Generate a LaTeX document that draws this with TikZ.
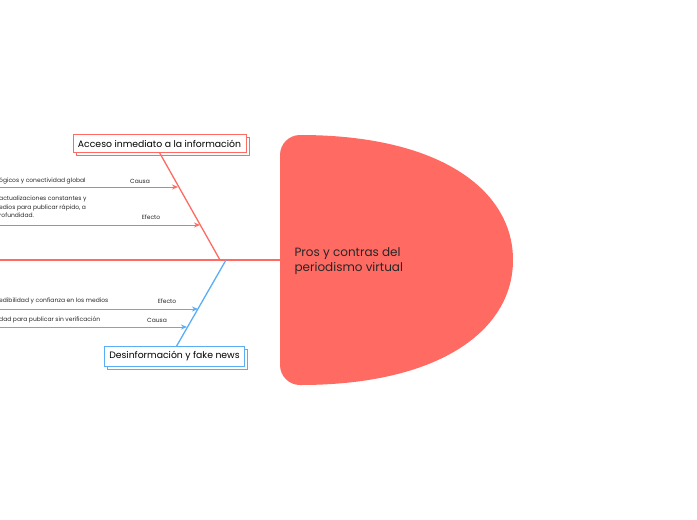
\documentclass[tikz,border=0pt]{standalone}
\usepackage{fontspec}
\setmainfont{Poppins}
\usetikzlibrary{arrows.meta}
\definecolor{rd}{HTML}{FF6B63}
\definecolor{bl}{HTML}{5AAEF5}
\tikzset{
 small/.style={font=\fontsize{6}{8.5}\selectfont, inner sep=0pt, text=black!85},
 bone/.style={line width=1.3pt},
 arr/.style={line width=1pt, -{Stealth[length=6pt,width=5pt]}},
 cat/.style={draw, fill=white, line width=0.8pt, font=\fontsize{9.3}{12}\selectfont, inner xsep=5pt, inner ysep=5pt}
}
\begin{document}
\begin{tikzpicture}[x=1pt,y=-1pt]
\useasboundingbox (0,0) rectangle (697,520);
\clip (0,0) rectangle (697,520);
% head
\fill[rd] (300,385) [rounded corners=20] -- (280,385) -- (280,135) [sharp corners] -- (300,135)
  .. controls (440,135) and (513,190) .. (513,260) .. controls (513,330) and (440,385) .. (300,385) -- cycle;
\node[anchor=west, font=\fontsize{12}{15}\selectfont, align=left, text=black!85] (head) at (291,261) {Pros y contras del\\periodismo virtual};
% spine
\coordinate (s0) at (0,260);
\coordinate (s1) at (281,260);
\draw[rd, bone] (s0) -- (s1);
% top category
\node[cat, draw=rd] (shA) at (162.5,146.5) {\phantom{Acceso inmediato a la información}};
\node[cat, draw=rd] (catA) at (159.5,143.5) {Acceso inmediato a la información};
\coordinate (tA) at (220,260);
\draw[rd, bone] (catA.south) ++(0,0) coordinate (bA) -- (tA);
\coordinate (a1s) at (0,187); \coordinate (a1e) at (178,187);
\coordinate (a2s) at (0,225); \coordinate (a2e) at (200,225);
\draw[rd, arr] (a1s) -- (a1e);
\draw[rd, arr] (a2s) -- (a2e);
\node[small, anchor=west] (t1) at (-1,181) {ógicos y conectividad global};
\node[small] (c1) at (140,181) {Causa};
\node[small, anchor=north west, align=left] (t2) at (-1,196) {actualizaciones constantes y\\edios para publicar rápido, a\\rofundidad.};
\node[small] (e1) at (151,217) {Efecto};
% bottom category
\node[cat, draw=bl] (shB) at (177.5,359.5) {\phantom{Desinformación y fake news}};
\node[cat, draw=bl] (catB) at (174.5,356.5) {Desinformación y fake news};
\coordinate (tB) at (226,260);
\draw[bl, bone] (catB.north) ++(2,0) coordinate (bB) -- (tB);
\coordinate (b1s) at (0,309); \coordinate (b1e) at (198,309);
\coordinate (b2s) at (0,327); \coordinate (b2e) at (187,327);
\draw[bl, arr] (b1s) -- (b1e);
\draw[bl, arr] (b2s) -- (b2e);
\node[small, anchor=west] (t3) at (-1,301) {edibilidad y confianza en los medios};
\node[small] (e2) at (167,301) {Efecto};
\node[small, anchor=west] (t4) at (-1,320) {dad para publicar sin verificación};
\node[small] (c2) at (157,320) {Causa};
\end{tikzpicture}
\end{document}
